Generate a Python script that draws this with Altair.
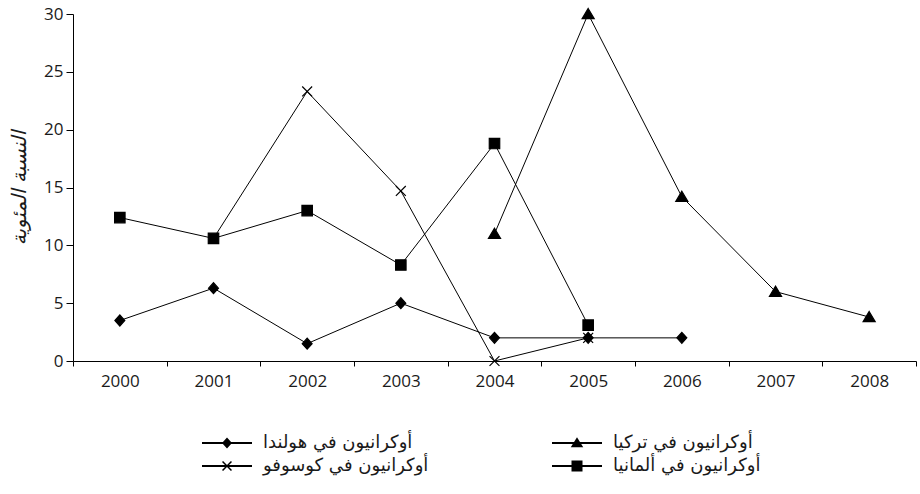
import altair as alt
import pandas as pd

# Years on the horizontal axis
years = ["2000", "2001", "2002", "2003", "2004", "2005", "2006", "2007", "2008"]

# Series names (legend order: row-major, two columns)
series_names = [
    "أوكرانيون في هولندا",
    "أوكرانيون في تركيا",
    "أوكرانيون في كوسوفو",
    "أوكرانيون في ألمانيا",
]

# Percentages per year (None = no observation)
netherlands = [3.5, 6.3, 1.5, 5.0, 2.0, 2.0, 2.0, None, None]
turkey = [None, None, None, None, 11.0, 30.0, 14.2, 6.0, 3.8]
kosovo = [None, 10.6, 23.3, 14.7, 0.0, 2.0, None, None, None]
germany = [12.4, 10.6, 13.0, 8.3, 18.8, 3.1, None, None, None]

y_title = "النسبة المئوية"

rows = []
for name, values in zip(series_names, [netherlands, turkey, kosovo, germany]):
    for year, v in zip(years, values):
        if v is not None:
            rows.append({"year": year, "series": name, "value": v})
df = pd.DataFrame(rows)

# Marker outlines in the unit square used by Vega custom symbols
marker_paths = [
    "M0,-1L0.9,0L0,1L-0.9,0Z",                    # diamond
    "M0,-1L1.1,0.85L-1.1,0.85Z",                   # triangle
    "M-0.9,-0.9L0.9,0.9M-0.9,0.9L0.9,-0.9",        # cross
    "M-0.95,-0.95H0.95V0.95H-0.95Z",               # square
]

# Legend keys: a thin filled bar with the marker in the middle (fill only)
bar = "M-5,-0.18H5V0.18H-5Z"
key_paths = [
    bar + "M0,-1.1L1,0L0,1.1L-1,0Z",
    bar + "M0,-1.15L1.25,0.85L-1.25,0.85Z",
    bar + "M-1,-0.79L-0.79,-1L0,-0.21L0.79,-1L1,-0.79L0.21,0"
          "L1,0.79L0.79,1L0,0.21L-0.79,1L-1,0.79L-0.21,0Z",
    bar + "M-1.1,-1.1H1.1V1.1H-1.1Z",
]

x_enc = alt.X(
    "year:O",
    sort=years,
    scale=alt.Scale(type="band", paddingInner=0, paddingOuter=0),
    axis=alt.Axis(
        title=None,
        labelAngle=0,
        tickBand="extent",
        tickSize=5,
        labelPadding=7,
        labelFont="Open Sans",
        labelFontSize=17,
        labelColor="#1a1a1a",
    ),
)
y_enc = alt.Y(
    "value:Q",
    scale=alt.Scale(domain=[0, 30], nice=False),
    axis=alt.Axis(
        title=y_title,
        values=[0, 5, 10, 15, 20, 25, 30],
        tickSize=7,
        labelPadding=3,
        grid=False,
        labelFont="Open Sans",
        labelFontSize=17,
        labelColor="#1a1a1a",
        titleFont="DejaVu Sans",
        titleFontSize=20,
        titleFontStyle="italic",
        titleFontWeight="normal",
        titleColor="#1a1a1a",
        titlePadding=14,
    ),
)

base = alt.Chart(df)

lines = base.mark_line(color="black", strokeWidth=1).encode(
    x=x_enc, y=y_enc, detail="series:N"
)

points = base.mark_point(
    filled=True, fill="black", stroke="black", strokeWidth=1.2, opacity=1, size=121
).encode(
    x=x_enc,
    y=y_enc,
    shape=alt.Shape(
        "series:N",
        scale=alt.Scale(domain=series_names, range=marker_paths),
        legend=None,
    ),
)

# Legend-only layer (draws no points, supplies the key symbols)
keys = base.transform_filter("false").mark_point(
    filled=True, fill="black"
).encode(
    x=x_enc,
    y=y_enc,
    shape=alt.Shape(
        "series:N",
        scale=alt.Scale(domain=series_names, range=key_paths),
        legend=alt.Legend(
            title=None,
            orient="none",
            legendX=145,
            legendY=420,
            direction="horizontal",
            columns=2,
            columnPadding=120,
            rowPadding=5,
            padding=0,
            symbolSize=100,
            symbolFillColor="black",
            symbolOpacity=1,
            labelFont="DejaVu Sans",
            labelFontSize=18,
            labelColor="#1a1a1a",
            labelOffset=27,
            labelLimit=400,
        ),
    ),
)

chart = (
    alt.layer(lines, points, keys)
    .resolve_scale(shape="independent")
    .properties(
        width=843,
        height=347,
        autosize=alt.AutoSizeParams(type="none"),
        padding={"left": 73, "top": 14, "right": 4, "bottom": 133},
        background="white",
    )
    .configure_view(stroke=None)
    .configure_axis(domainColor="black", tickColor="black", domainWidth=1, tickWidth=1)
)

chart.save("out.html", embed_options={"renderer": "svg", "actions": False})
